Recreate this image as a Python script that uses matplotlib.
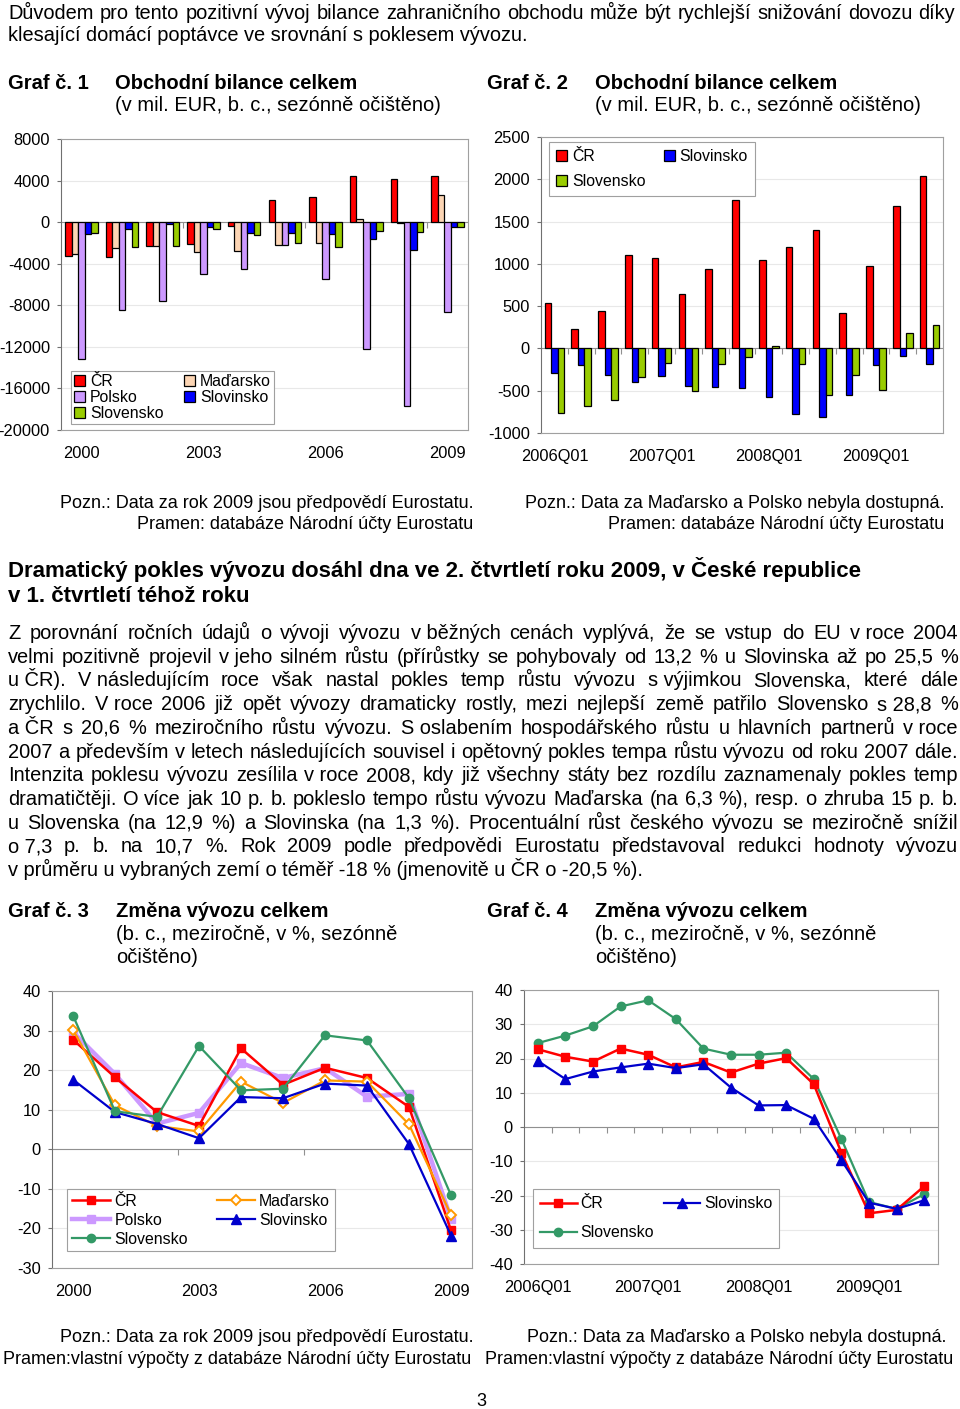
import matplotlib
matplotlib.use('Agg')
import matplotlib.pyplot as plt
import numpy as np

plt.rcParams['font.family'] = ['Liberation Sans', 'DejaVu Sans']
plt.rcParams['axes.unicode_minus'] = False

# ---- data ----
years = list(range(2000, 2010))
bal_cr = [-3300, -3350, -2250, -2100, -400, 2100, 2400, 4450, 4150, 4450]
bal_hu = [-3100, -2500, -2250, -2850, -2800, -2200, -2000, 300, -80, 2600]
bal_pl = [-13200, -8500, -7600, -5000, -4500, -2200, -5450, -12250, -17700, -8650]
bal_si = [-1150, -650, -200, -500, -1000, -1000, -1100, -1600, -2650, -500]
bal_sk = [-1050, -2400, -2300, -650, -1200, -2000, -2350, -900, -950, -500]

quarters = ['2006Q01', '2006Q02', '2006Q03', '2006Q04',
            '2007Q01', '2007Q02', '2007Q03', '2007Q04',
            '2008Q01', '2008Q02', '2008Q03', '2008Q04',
            '2009Q01', '2009Q02', '2009Q03']
q_cr = [540, 230, 445, 1100, 1065, 640, 945, 1750, 1050, 1200, 1400, 415, 980, 1690, 2040]
q_si = [-290, -200, -320, -395, -325, -450, -455, -470, -580, -780, -810, -555, -195, -95, -180]
q_sk = [-760, -680, -615, -335, -170, -505, -190, -100, 30, -180, -555, -315, -490, 180, 275]

g_cr = [27.7, 18.2, 9.4, 5.9, 25.5, 16.3, 20.6, 18.0, 10.7, -20.5]
g_pl = [29.6, 19.0, 6.5, 9.2, 21.8, 18.0, 20.5, 13.3, 14.0, -17.6]
g_hu = [30.2, 11.1, 5.9, 4.5, 17.1, 11.7, 17.4, 17.1, 6.3, -16.6]
g_si = [17.6, 9.4, 6.4, 2.8, 13.2, 12.9, 16.6, 16.1, 1.3, -21.8]
g_sk = [33.8, 9.6, 8.2, 26.1, 14.9, 15.3, 28.8, 27.5, 12.9, -11.6]

qg_cr = [22.7, 20.5, 19.1, 22.9, 21.1, 17.4, 19.0, 15.9, 18.5, 20.1, 12.5, -7.5, -25.2, -24.2, -17.3]
qg_sk = [24.5, 26.7, 29.4, 35.2, 37.0, 31.5, 22.9, 21.1, 21.1, 21.7, 14.0, -3.5, -21.9, -23.9, -19.6]
qg_si = [19.3, 14.0, 16.2, 17.4, 18.5, 17.2, 18.3, 11.5, 6.3, 6.4, 2.4, -9.7, -22.1, -23.9, -21.4]

intro = ["Důvodem pro tento pozitivní vývoj bilance zahraničního obchodu může být rychlejší snižování dovozu díky",
         "klesající domácí poptávce ve srovnání s poklesem vývozu."]
heading = ["Dramatický pokles vývozu dosáhl dna ve 2. čtvrtletí roku 2009, v České republice",
           "v 1. čtvrtletí téhož roku"]
body = ["Z porovnání ročních údajů o vývoji vývozu v\u00a0běžných cenách vyplývá, že se vstup do EU v\u00a0roce 2004",
        "velmi pozitivně projevil v\u00a0jeho silném růstu (přírůstky se pohybovaly od 13,2 % u Slovinska až po 25,5 %",
        "u\u00a0ČR). V\u00a0následujícím roce však nastal pokles temp růstu vývozu s\u00a0výjimkou Slovenska, které dále",
        "zrychlilo. V\u00a0roce 2006 již opět vývozy dramaticky rostly, mezi nejlepší země patřilo Slovensko s\u00a028,8 %",
        "a\u00a0ČR s 20,6 % meziročního růstu vývozu. S\u00a0oslabením hospodářského růstu u hlavních partnerů v\u00a0roce",
        "2007 a především v letech následujících souvisel i opětovný pokles tempa růstu vývozu od roku 2007 dále.",
        "Intenzita poklesu vývozu zesílila v\u00a0roce 2008, kdy již všechny státy bez rozdílu zaznamenaly pokles temp",
        "dramatičtěji. O více jak 10 p. b. pokleslo tempo růstu vývozu Maďarska (na 6,3 %), resp. o zhruba 15 p. b.",
        "u Slovenska (na 12,9 %) a Slovinska (na 1,3 %). Procentuální růst českého vývozu se meziročně snížil",
        "o\u00a07,3 p. b. na 10,7 %. Rok 2009 podle předpovědi Eurostatu představoval redukci hodnoty vývozu",
        "v\u00a0průměru u vybraných zemí o téměř -18 % (jmenovitě u ČR o -20,5 %)."]

c_cr, c_hu, c_pl, c_si, c_sk = '#ff0000', '#fcd5b4', '#cc99ff', '#0000ff', '#99cc00'
TICK = 11.8
LEG = 11.4
TITLE = 14.5
NOTE = 13

W, H = 960, 1409
fig = plt.figure(figsize=(W / 100, H / 100), dpi=100)
renderer = fig.canvas.get_renderer()


def box(l, t, r, b):
    return [l / W, 1 - b / H, (r - l) / W, (b - t) / H]


def txt(x, y, s, size=13, weight='normal', ha='left'):
    return fig.text(x / W, 1 - y / H, s, fontsize=size, fontweight=weight, ha=ha, va='baseline')


def justified(lines, x0, x1, y0, dy, size, last_left=True):
    for i, line in enumerate(lines):
        y = y0 + i * dy
        if i == len(lines) - 1 and last_left:
            txt(x0, y, line, size)
            continue
        words = line.split(' ')
        objs = [txt(0, y, w, size) for w in words]
        widths = [o.get_window_extent(renderer).width for o in objs]
        gap = (x1 - x0 - sum(widths)) / (len(words) - 1)
        x = x0
        for o, w in zip(objs, widths):
            o.set_x(x / W)
            x += w + gap


def style(ax, bounds):
    for s in ax.spines.values():
        s.set_color('#a0a0a0')
        s.set_linewidth(0.8)
    ax.spines['left'].set_color('#707070')
    ax.grid(axis='y', color='#e8e8e8', lw=0.8)
    ax.set_axisbelow(True)
    ax.axhline(0, color='#909090', lw=0.8, zorder=2)
    ax.plot(bounds, np.zeros(len(bounds)), ls='none', marker=3, ms=4,
            mew=0.8, color='#909090', zorder=2)
    ax.tick_params(axis='x', length=0, pad=11.5, labelsize=TICK)
    ax.tick_params(axis='y', length=3, color='#707070', labelsize=TICK, pad=5)


def legend(ax, x, y, **kw):
    lg = ax.legend(loc='upper left', bbox_to_anchor=(x / W, 1 - y / H),
                   bbox_transform=fig.transFigure, fancybox=False, framealpha=1,
                   edgecolor='#a0a0a0', fontsize=LEG, borderaxespad=0, **kw)
    lg.get_frame().set_linewidth(0.8)
    return lg


# ---- texts ----
justified(intro, 8, 955, 19, 22, 14.4)
txt(8, 89, 'Graf č. 1', TITLE, 'bold')
txt(115, 89, 'Obchodní bilance celkem', TITLE, 'bold')
txt(115, 111, '(v mil. EUR, b. c., sezónně očištěno)', TITLE)
txt(487, 89, 'Graf č. 2', TITLE, 'bold')
txt(595, 89, 'Obchodní bilance celkem', TITLE, 'bold')
txt(595, 111, '(v mil. EUR, b. c., sezónně očištěno)', TITLE)

txt(473, 508, 'Pozn.: Data za rok 2009 jsou předpovědí Eurostatu.', NOTE, ha='right')
txt(473, 529, 'Pramen: databáze Národní účty Eurostatu', NOTE, ha='right')
txt(944, 508, 'Pozn.: Data za Maďarsko a Polsko nebyla dostupná.', NOTE, ha='right')
txt(944, 529, 'Pramen: databáze Národní účty Eurostatu', NOTE, ha='right')

txt(8, 577, heading[0], 16, 'bold')
txt(8, 602, heading[1], 16, 'bold')
justified(body, 8, 958, 639, 23.7, 14.4)

txt(8, 917, 'Graf č. 3', TITLE, 'bold')
txt(116, 917, 'Změna vývozu celkem', TITLE, 'bold')
txt(116, 940, '(b. c., meziročně, v %, sezónně', TITLE)
txt(116, 963, 'očištěno)', TITLE)
txt(487, 917, 'Graf č. 4', TITLE, 'bold')
txt(595, 917, 'Změna vývozu celkem', TITLE, 'bold')
txt(595, 940, '(b. c., meziročně, v %, sezónně', TITLE)
txt(595, 963, 'očištěno)', TITLE)

txt(473, 1342, 'Pozn.: Data za rok 2009 jsou předpovědí Eurostatu.', NOTE, ha='right')
txt(471, 1364, 'Pramen:vlastní výpočty z databáze Národní účty Eurostatu', NOTE, ha='right')
txt(946, 1342, 'Pozn.: Data za Maďarsko a Polsko nebyla dostupná.', NOTE, ha='right')
txt(953, 1364, 'Pramen:vlastní výpočty z databáze Národní účty Eurostatu', NOTE, ha='right')
txt(481, 1406, '3', NOTE, ha='center')

# ---- chart 1 ----
ax1 = fig.add_axes(box(61, 139, 468, 430))
x1 = np.arange(len(years))
bw = 0.16
for k, (vals, lab, col) in enumerate([(bal_cr, 'ČR', c_cr), (bal_hu, 'Maďarsko', c_hu),
                                       (bal_pl, 'Polsko', c_pl), (bal_si, 'Slovinsko', c_si),
                                       (bal_sk, 'Slovensko', c_sk)]):
    ax1.bar(x1 + (k - 2) * bw, vals, bw, color=col, edgecolor='black', linewidth=0.9,
            label=lab, zorder=3)
ax1.set_xlim(-0.5, len(years) - 0.5)
ax1.set_ylim(-20000, 8000)
ax1.set_yticks(range(-20000, 8001, 4000))
ax1.set_xticks(x1[::3])
ax1.set_xticklabels([str(v) for v in years[::3]])
style(ax1, np.arange(2.5, len(years), 3))
h, l = ax1.get_legend_handles_labels()
order = [0, 2, 4, 1, 3]
legend(ax1, 71, 371, handles=[h[i] for i in order], labels=[l[i] for i in order], ncol=2,
       handlelength=0.7, handleheight=0.7, handletextpad=0.3, labelspacing=0.05,
       columnspacing=1.3, borderpad=0.2)

# ---- chart 2 ----
ax2 = fig.add_axes(box(541, 137, 943, 433))
x2 = np.arange(len(quarters))
bw2 = 0.245
for k, (vals, lab, col) in enumerate([(q_cr, 'ČR', c_cr), (q_si, 'Slovinsko', c_si),
                                       (q_sk, 'Slovensko', c_sk)]):
    ax2.bar(x2 + (k - 1) * bw2, vals, bw2, color=col, edgecolor='black', linewidth=0.9,
            label=lab, zorder=3)
ax2.set_xlim(-0.5, len(quarters) - 0.5)
ax2.set_ylim(-1000, 2500)
ax2.set_yticks(range(-1000, 2501, 500))
ax2.set_xticks(x2[::4])
ax2.set_xticklabels(quarters[::4])
style(ax2, np.arange(0.5, len(quarters) - 1, 1))
h, l = ax2.get_legend_handles_labels()
order = [0, 2, 1]
legend(ax2, 549, 142, handles=[h[i] for i in order], labels=[l[i] for i in order], ncol=2,
       handlelength=0.7, handleheight=0.7, handletextpad=0.3, labelspacing=0.6,
       columnspacing=1.15, borderpad=0.45)

# ---- chart 3 ----
ax3 = fig.add_axes(box(52, 991, 472, 1268))
ax3.plot(x1, g_cr, color=c_cr, lw=1.8, marker='s', ms=6, label='ČR', zorder=4)
ax3.plot(x1, g_pl, color=c_pl, lw=3.2, marker='s', ms=6, label='Polsko', zorder=3)
ax3.plot(x1, g_hu, color='#ff9900', lw=1.6, marker='D', ms=5.5, mfc='white', mew=1.4,
         label='Maďarsko', zorder=4)
ax3.plot(x1, g_si, color='#0000cc', lw=1.6, marker='^', ms=6.5, label='Slovinsko', zorder=5)
ax3.plot(x1, g_sk, color='#339966', lw=1.6, marker='o', ms=6, label='Slovensko', zorder=5)
ax3.set_xlim(-0.5, len(years) - 0.5)
ax3.set_ylim(-30, 40)
ax3.set_yticks(range(-30, 41, 10))
ax3.set_xticks(x1[::3])
ax3.set_xticklabels([str(v) for v in years[::3]])
style(ax3, np.arange(2.5, len(years), 3))
h, l = ax3.get_legend_handles_labels()
order = [0, 1, 4, 2, 3]
legend(ax3, 67, 1189, handles=[h[i] for i in order], labels=[l[i] for i in order], ncol=2,
       handlelength=2.4, handletextpad=0.3, labelspacing=0.25, columnspacing=1.8,
       borderpad=0.3)

# ---- chart 4 ----
ax4 = fig.add_axes(box(524, 990, 938, 1264))
ax4.plot(x2, qg_cr, color=c_cr, lw=1.8, marker='s', ms=6, label='ČR', zorder=4)
ax4.plot(x2, qg_si, color='#0000cc', lw=1.6, marker='^', ms=6.5, label='Slovinsko', zorder=4)
ax4.plot(x2, qg_sk, color='#339966', lw=1.6, marker='o', ms=6, label='Slovensko', zorder=3)
ax4.set_xlim(-0.5, len(quarters) - 0.5)
ax4.set_ylim(-40, 40)
ax4.set_yticks(range(-40, 41, 10))
ax4.set_xticks(x2[::4])
ax4.set_xticklabels(quarters[::4])
style(ax4, np.arange(0.5, len(quarters) - 1, 1))
h, l = ax4.get_legend_handles_labels()
order = [0, 2, 1]
legend(ax4, 533, 1189, handles=[h[i] for i in order], labels=[l[i] for i in order], ncol=2,
       handlelength=2.3, handletextpad=0.25, labelspacing=0.9, columnspacing=0.6,
       borderpad=0.45)

fig.savefig('out.png', dpi=100)
